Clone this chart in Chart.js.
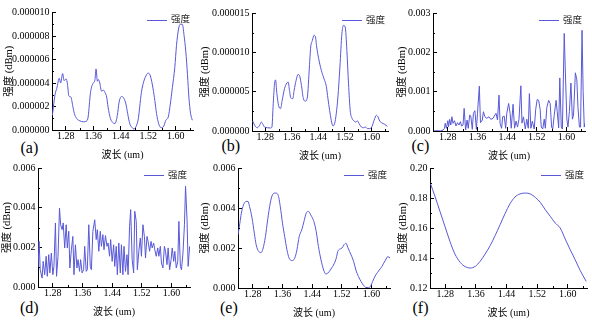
<!DOCTYPE html>
<html><head><meta charset="utf-8">
<script src="https://cdn.jsdelivr.net/npm/chart.js@4"></script>
<style>
html,body{margin:0;padding:0;background:#fff;}
body{width:592px;height:321px;position:relative;overflow:hidden;}
canvas{position:absolute;left:0;top:0;}
.lbl{position:absolute;font-family:"Liberation Serif","Times New Roman",serif;font-size:16px;line-height:16px;color:#000;white-space:nowrap;}
</style></head><body>
<div class="lbl" style="left:20.5px;top:139.5px">(a)</div>
<div class="lbl" style="left:221.5px;top:138px">(b)</div>
<div class="lbl" style="left:411.5px;top:138px">(c)</div>
<div class="lbl" style="left:20px;top:299.5px">(d)</div>
<div class="lbl" style="left:220px;top:299.5px">(e)</div>
<div class="lbl" style="left:412.5px;top:299.5px">(f)</div>
<script>
// ---------- data ----------
const seriesLabel = '强度';
const xTitle = '波长 (um)';
const yTitle = '强度 (dBm)';
const xTickValues = [1.28, 1.36, 1.44, 1.52, 1.60];
const xMin = 1.24, xMax = 1.65;

const aYTicks = [0, 2e-6, 4e-6, 6e-6, 8e-6, 10e-6];
const bYTicks = [0, 5e-6, 10e-6, 15e-6];
const cYTicks = [0, 0.001, 0.002, 0.003];
const dYTicks = [0, 0.002, 0.004, 0.006];
const eYTicks = [0, 0.002, 0.004, 0.006];
const fYTicks = [0.12, 0.14, 0.16, 0.18, 0.20];

const aWave = [1.241,1.244,1.249,1.254,1.261,1.265,1.271,1.275,1.281,1.285,1.289,1.295,1.300,1.305,1.312,1.321,1.331,1.341,1.345,1.352,1.358,1.365,1.368,1.372,1.375,1.379,1.384,1.389,1.394,1.399,1.403,1.410,1.418,1.423,1.430,1.435,1.442,1.449,1.455,1.460,1.466,1.473,1.478,1.486,1.491,1.495,1.500,1.507,1.515,1.520,1.526,1.534,1.539,1.544,1.550,1.557,1.565,1.571,1.578,1.584,1.590,1.597,1.602,1.608,1.613,1.619,1.624,1.629,1.634,1.638,1.643,1.648];
const aPower = [1.25e-6,1.94e-6,3.05e-6,3.55e-6,4.4e-6,4.0e-6,4.8e-6,4.2e-6,4.35e-6,3.9e-6,2.9e-6,2.8e-6,2.1e-6,1.4e-6,0.97e-6,0.78e-6,0.7e-6,0.78e-6,1.1e-6,3.2e-6,3.9e-6,4.3e-6,5.2e-6,4.15e-6,4.3e-6,4.0e-6,3.3e-6,3.4e-6,3.2e-6,2.8e-6,1.95e-6,0.97e-6,0.6e-6,0.55e-6,1.25e-6,2.35e-6,2.85e-6,2.7e-6,2.2e-6,1.4e-6,0.55e-6,0.2e-6,0.08e-6,0.4e-6,0.97e-6,1.95e-6,3.2e-6,4.15e-6,4.7e-6,4.85e-6,4.6e-6,3.5e-6,2.5e-6,1.4e-6,0.55e-6,0.2e-6,0.33e-6,0.83e-6,1.1e-6,2.2e-6,3.6e-6,5.3e-6,7.2e-6,8.6e-6,9.0e-6,9.0e-6,8.05e-6,6.7e-6,4.7e-6,2.8e-6,1.4e-6,0.83e-6];

const bWave = [1.242,1.248,1.256,1.263,1.268,1.273,1.278,1.286,1.296,1.300,1.304,1.308,1.311,1.315,1.320,1.326,1.331,1.338,1.345,1.349,1.353,1.357,1.363,1.367,1.373,1.379,1.384,1.389,1.395,1.401,1.407,1.413,1.417,1.422,1.427,1.431,1.435,1.441,1.449,1.457,1.464,1.469,1.474,1.479,1.484,1.489,1.494,1.499,1.505,1.511,1.516,1.521,1.526,1.531,1.536,1.542,1.548,1.553,1.558,1.563,1.570,1.576,1.582,1.588,1.595,1.602,1.608,1.615,1.620,1.625,1.632,1.640,1.648];
const bPower = [1.27e-6,0.72e-6,0.42e-6,0.72e-6,1.14e-6,0.85e-6,0.5e-6,0.42e-6,0.38e-6,0.5e-6,3.47e-6,6.0e-6,6.5e-6,4.75e-6,3.26e-6,2.84e-6,3.9e-6,5.38e-6,6.1e-6,6.23e-6,5.17e-6,4.2e-6,4.1e-6,5.17e-6,6.44e-6,7.2e-6,6.95e-6,5.8e-6,4.1e-6,3.8e-6,4.32e-6,8.13e-6,10.68e-6,11.5e-6,12.16e-6,12.03e-6,10.68e-6,9.19e-6,7.71e-6,6.65e-6,5.68e-6,4.1e-6,2.63e-6,1.36e-6,0.64e-6,0.93e-6,2.2e-6,4.32e-6,8.13e-6,12.37e-6,13.43e-6,13.22e-6,10.25e-6,6.0e-6,2.63e-6,1.57e-6,1.27e-6,1.14e-6,1.27e-6,0.93e-6,0.5e-6,0.42e-6,0.5e-6,0.3e-6,0.3e-6,0.59e-6,1.36e-6,1.99e-6,1.78e-6,1.27e-6,1.02e-6,0.85e-6,0.59e-6];

const cWave = [1.242,1.251,1.260,1.267,1.271,1.273,1.276,1.280,1.282,1.285,1.288,1.291,1.294,1.298,1.302,1.306,1.310,1.314,1.317,1.321,1.324,1.328,1.332,1.335,1.339,1.342,1.346,1.349,1.353,1.357,1.360,1.365,1.368,1.373,1.376,1.380,1.385,1.391,1.396,1.402,1.407,1.410,1.414,1.418,1.421,1.425,1.428,1.432,1.436,1.439,1.444,1.448,1.451,1.456,1.460,1.464,1.468,1.472,1.477,1.480,1.484,1.489,1.493,1.497,1.500,1.504,1.508,1.513,1.517,1.521,1.525,1.529,1.532,1.536,1.540,1.543,1.547,1.552,1.556,1.560,1.563,1.567,1.572,1.575,1.579,1.582,1.586,1.589,1.594,1.597,1.601,1.604,1.608,1.612,1.616,1.619,1.624,1.628,1.631,1.635,1.638,1.642,1.645,1.648,1.650];
const cPower = [0,0.008e-3,0,0.025e-3,0.068e-3,0.194e-3,0.068e-3,0.262e-3,0.11e-3,0.296e-3,0.152e-3,0.363e-3,0.194e-3,0.262e-3,0.127e-3,0.211e-3,0.152e-3,0.237e-3,0.127e-3,0.152e-3,0.575e-3,0.025e-3,0.279e-3,0.068e-3,0.406e-3,0.38e-3,0.042e-3,0.448e-3,0.516e-3,0.042e-3,0.448e-3,1.141e-3,0.211e-3,0.279e-3,0.49e-3,0.363e-3,0.321e-3,0.363e-3,0.296e-3,0.321e-3,0.406e-3,0.448e-3,0.279e-3,0.913e-3,0.194e-3,0.068e-3,0.363e-3,0.38e-3,0.068e-3,0.45e-3,0.70e-3,0.45e-3,0.07e-3,0.68e-3,0.07e-3,0.25e-3,0.1e-3,0.30e-3,1.15e-3,0.2e-3,0.36e-3,0.05e-3,0.3e-3,0.07e-3,0.95e-3,0.07e-3,0.25e-3,0.05e-3,0.55e-3,0.8e-3,0.78e-3,0.55e-3,0.1e-3,0.05e-3,0.3e-3,0.07e-3,0.6e-3,0.78e-3,0.7e-3,0.1e-3,0.05e-3,0.4e-3,0.78e-3,0.5e-3,0.08e-3,1.35e-3,0.1e-3,0.05e-3,2.48e-3,1.5e-3,0.3e-3,0.1e-3,0.5e-3,1.22e-3,0.3e-3,0.4e-3,1.48e-3,1.3e-3,0.6e-3,0.1e-3,0.1e-3,2.56e-3,1.0e-3,0.1e-3,0.2e-3];

const dWave = [1.240,1.243,1.246,1.251,1.254,1.258,1.262,1.265,1.269,1.272,1.276,1.280,1.283,1.287,1.290,1.294,1.298,1.301,1.305,1.308,1.312,1.316,1.319,1.323,1.326,1.330,1.334,1.337,1.341,1.345,1.348,1.352,1.355,1.359,1.363,1.366,1.370,1.373,1.377,1.381,1.384,1.388,1.393,1.397,1.400,1.404,1.408,1.411,1.415,1.418,1.422,1.426,1.429,1.433,1.436,1.440,1.444,1.447,1.451,1.454,1.458,1.462,1.465,1.469,1.472,1.476,1.480,1.483,1.487,1.490,1.494,1.498,1.501,1.505,1.508,1.512,1.516,1.519,1.523,1.527,1.530,1.534,1.537,1.541,1.545,1.548,1.552,1.555,1.559,1.563,1.566,1.570,1.573,1.577,1.581,1.584,1.588,1.591,1.595,1.599,1.602,1.606,1.609,1.613,1.617,1.620,1.624,1.627,1.631,1.635,1.638,1.642,1.645,1.649];
const dPower = [0.96e-3,2.30e-3,0.87e-3,0.45e-3,1.29e-3,0.62e-3,1.55e-3,0.54e-3,1.63e-3,0.71e-3,1.71e-3,0.62e-3,1.04e-3,3.23e-3,0.54e-3,1.55e-3,3.98e-3,3.14e-3,2.89e-3,3.23e-3,1.97e-3,3.14e-3,1.97e-3,2.81e-3,0.96e-3,1.88e-3,2.55e-3,0.62e-3,2.13e-3,0.96e-3,1.38e-3,0.79e-3,1.38e-3,0.71e-3,0.87e-3,2.05e-3,0.79e-3,0.87e-3,3.14e-3,1.04e-3,0.87e-3,2.81e-3,3.39e-3,2.39e-3,2.89e-3,1.80e-3,2.81e-3,2.05e-3,2.64e-3,1.88e-3,2.59e-3,2.05e-3,2.22e-3,1.55e-3,2.39e-3,1.29e-3,2.13e-3,1.04e-3,2.05e-3,0.62e-3,2.22e-3,0.71e-3,2.13e-3,0.62e-3,2.05e-3,0.79e-3,1.63e-3,0.62e-3,3.06e-3,3.90e-3,1.38e-3,0.71e-3,3.82e-3,3.31e-3,0.87e-3,1.80e-3,2.47e-3,1.55e-3,3.14e-3,2.55e-3,1.46e-3,2.55e-3,2.30e-3,1.80e-3,2.30e-3,1.97e-3,2.22e-3,1.88e-3,1.55e-3,1.97e-3,1.55e-3,2.05e-3,1.21e-3,0.96e-3,2.05e-3,1.80e-3,1.13e-3,1.97e-3,0.87e-3,1.38e-3,1.97e-3,1.29e-3,1.80e-3,0.96e-3,1.29e-3,3.31e-3,1.04e-3,0.87e-3,1.71e-3,3.14e-3,5.08e-3,3.39e-3,1.04e-3,2.05e-3];

const eWave = [1.240,1.245,1.249,1.255,1.262,1.267,1.271,1.278,1.284,1.289,1.296,1.302,1.307,1.314,1.320,1.327,1.333,1.341,1.348,1.354,1.360,1.366,1.372,1.378,1.385,1.393,1.399,1.405,1.412,1.418,1.424,1.430,1.436,1.441,1.446,1.451,1.457,1.464,1.471,1.477,1.482,1.489,1.495,1.500,1.505,1.509,1.514,1.520,1.526,1.531,1.536,1.541,1.547,1.552,1.558,1.565,1.572,1.578,1.584,1.592,1.598,1.603,1.610,1.616,1.621,1.628,1.633,1.638,1.644,1.650];
const ePower = [2.66e-3,3.24e-3,3.74e-3,4.16e-3,4.33e-3,4.33e-3,4.08e-3,3.49e-3,2.74e-3,2.16e-3,1.82e-3,1.77e-3,1.94e-3,2.57e-3,3.41e-3,4.25e-3,4.66e-3,4.75e-3,4.66e-3,4.08e-3,3.24e-3,2.57e-3,1.91e-3,1.49e-3,1.37e-3,1.49e-3,1.91e-3,2.57e-3,2.91e-3,3.33e-3,3.74e-3,3.83e-3,3.66e-3,3.49e-3,3.24e-3,2.82e-3,2.07e-3,1.40e-3,0.90e-3,0.70e-3,0.74e-3,0.90e-3,1.07e-3,1.24e-3,1.49e-3,1.82e-3,1.94e-3,1.99e-3,2.16e-3,2.24e-3,2.04e-3,1.82e-3,1.57e-3,1.32e-3,0.90e-3,0.57e-3,0.32e-3,0.15e-3,0.03e-3,0.02e-3,0.10e-3,0.32e-3,0.60e-3,0.77e-3,0.90e-3,1.07e-3,1.24e-3,1.40e-3,1.57e-3,1.50e-3];

const fWave = [1.240,1.253,1.266,1.279,1.292,1.305,1.319,1.332,1.345,1.358,1.371,1.384,1.397,1.410,1.423,1.436,1.449,1.462,1.475,1.489,1.502,1.515,1.528,1.541,1.554,1.567,1.580,1.593,1.606,1.619,1.632,1.648];
const fPower = [0.1904,0.1811,0.1711,0.1611,0.1511,0.1427,0.1371,0.1342,0.1333,0.1344,0.1378,0.1427,0.1482,0.1549,0.1622,0.1696,0.1762,0.1807,0.1827,0.1833,0.1827,0.1804,0.1771,0.1722,0.1678,0.1633,0.1600,0.1527,0.1456,0.1389,0.1318,0.1244];

// ---------- style / layout ----------
const LINE_COLOR = '#5858d8';
const SERIF = "'Liberation Serif','Times New Roman',serif";
const CJK = "'Liberation Serif','Noto Sans CJK SC',serif";
const W = 592, H = 321, XH = 32;

const minorTicks = {
  id: 'minorTicks',
  afterDraw(chart) {
    const ctx = chart.ctx;
    ctx.save();
    ctx.strokeStyle = '#000';
    ctx.lineWidth = 1;
    ['x', 'y'].forEach(id => {
      const s = chart.scales[id];
      const vals = s.ticks.map(t => t.value);
      if (vals.length < 2) return;
      const step = vals[1] - vals[0];
      const eps = step * 1e-6;
      ctx.beginPath();
      for (let k = -1; k < vals.length; k++) {
        const v = vals[0] + (k + 0.5) * step;
        if (v < s.min - eps || v > s.max + eps) continue;
        const p = s.getPixelForValue(v);
        if (id === 'x') {
          const px = Math.round(p) + 0.5;
          ctx.moveTo(px, s.top);
          ctx.lineTo(px, s.top - 2);
        } else {
          const py = Math.round(p) + 0.5;
          ctx.moveTo(s.right, py);
          ctx.lineTo(s.right + 2, py);
        }
      }
      ctx.stroke();
    });
    ctx.restore();
  }
};

const insideLegend = {
  id: 'insideLegend',
  afterDatasetsDraw(chart) {
    const ctx = chart.ctx, area = chart.chartArea;
    const ds = chart.data.datasets[0];
    ctx.save();
    ctx.font = "9.5px " + CJK;
    const tw = ctx.measureText(ds.label).width;
    const xr = area.right - 3;
    const y = area.top + 7;
    ctx.fillStyle = '#222';
    ctx.textAlign = 'right';
    ctx.textBaseline = 'middle';
    ctx.fillText(ds.label, xr, y);
    ctx.strokeStyle = ds.borderColor;
    ctx.lineWidth = 1;
    ctx.beginPath();
    ctx.moveTo(xr - tw - 4 - 20, Math.round(y) + 0.5);
    ctx.lineTo(xr - tw - 4, Math.round(y) + 0.5);
    ctx.stroke();
    ctx.restore();
  }
};

function makePanel(xs, ys, yTicks, decimals, rect, yTitleX, smooth) {
  const cv = document.createElement('canvas');
  cv.width = W; cv.height = H;
  cv.style.width = W + 'px'; cv.style.height = H + 'px';
  document.body.appendChild(cv);
  const padL = yTitleX - 6.3;
  new Chart(cv.getContext('2d'), {
    type: 'line',
    data: {
      datasets: [{
        label: seriesLabel,
        data: xs.map((x, i) => ({x: x, y: ys[i]})),
        borderColor: LINE_COLOR,
        borderWidth: 1,
        pointRadius: 0,
        fill: false,
        tension: smooth ? 0.4 : 0,
        cubicInterpolationMode: smooth ? 'monotone' : 'default'
      }]
    },
    options: {
      responsive: false,
      animation: false,
      devicePixelRatio: 1,
      events: [],
      layout: {padding: {left: padL, top: rect.t, right: W - rect.r, bottom: H - rect.b - XH}},
      plugins: {legend: {display: false}, tooltip: {enabled: false}, title: {display: false}},
      scales: {
        x: {
          type: 'linear', min: xMin, max: xMax,
          afterBuildTicks: s => { s.ticks = xTickValues.map(v => ({value: v})); },
          afterFit: s => { s.height = XH; },
          grid: {display: true, drawOnChartArea: false, drawTicks: true, tickLength: -4, tickColor: '#000', tickWidth: 1},
          border: {display: true, color: '#000', width: 1},
          ticks: {padding: 4.5, autoSkip: false, maxRotation: 0, color: '#000',
                  font: {family: SERIF, size: 10},
                  callback: v => Number(v).toFixed(2)},
          title: {display: true, text: xTitle, color: '#000', font: {family: CJK, size: 10},
                  padding: {top: 0, bottom: 1}}
        },
        y: {
          type: 'linear', min: yTicks[0], max: yTicks[yTicks.length - 1],
          afterBuildTicks: s => { s.ticks = yTicks.map(v => ({value: v})); },
          afterFit: s => { s.width = rect.l - padL; },
          grid: {display: true, drawOnChartArea: false, drawTicks: true, tickLength: -4, tickColor: '#000', tickWidth: 1},
          border: {display: true, color: '#000', width: 1},
          ticks: {padding: 6.5, autoSkip: false, color: '#000',
                  font: {family: SERIF, size: 10},
                  callback: v => Number(v).toFixed(decimals)},
          title: {display: true, text: yTitle, color: '#000', font: {family: CJK, size: 10.5},
                  padding: {top: 0, bottom: 0}}
        }
      }
    },
    plugins: [minorTicks, insideLegend]
  });
}

makePanel(aWave, aPower, aYTicks, 6, {l: 52, t: 10, r: 193, b: 130}, 9, true);
makePanel(bWave, bPower, bYTicks, 6, {l: 252, t: 13, r: 388, b: 131}, 205, true);
makePanel(cWave, cPower, cYTicks, 3, {l: 433, t: 13, r: 585, b: 131}, 402.5, false);
makePanel(dWave, dPower, dYTicks, 3, {l: 38, t: 168, r: 190, b: 287}, 7.5, false);
makePanel(eWave, ePower, eYTicks, 3, {l: 238, t: 168, r: 390, b: 288}, 205, true);
makePanel(fWave, fPower, fYTicks, 2, {l: 430, t: 168, r: 587, b: 288}, 403, true);
</script>
</body></html>
